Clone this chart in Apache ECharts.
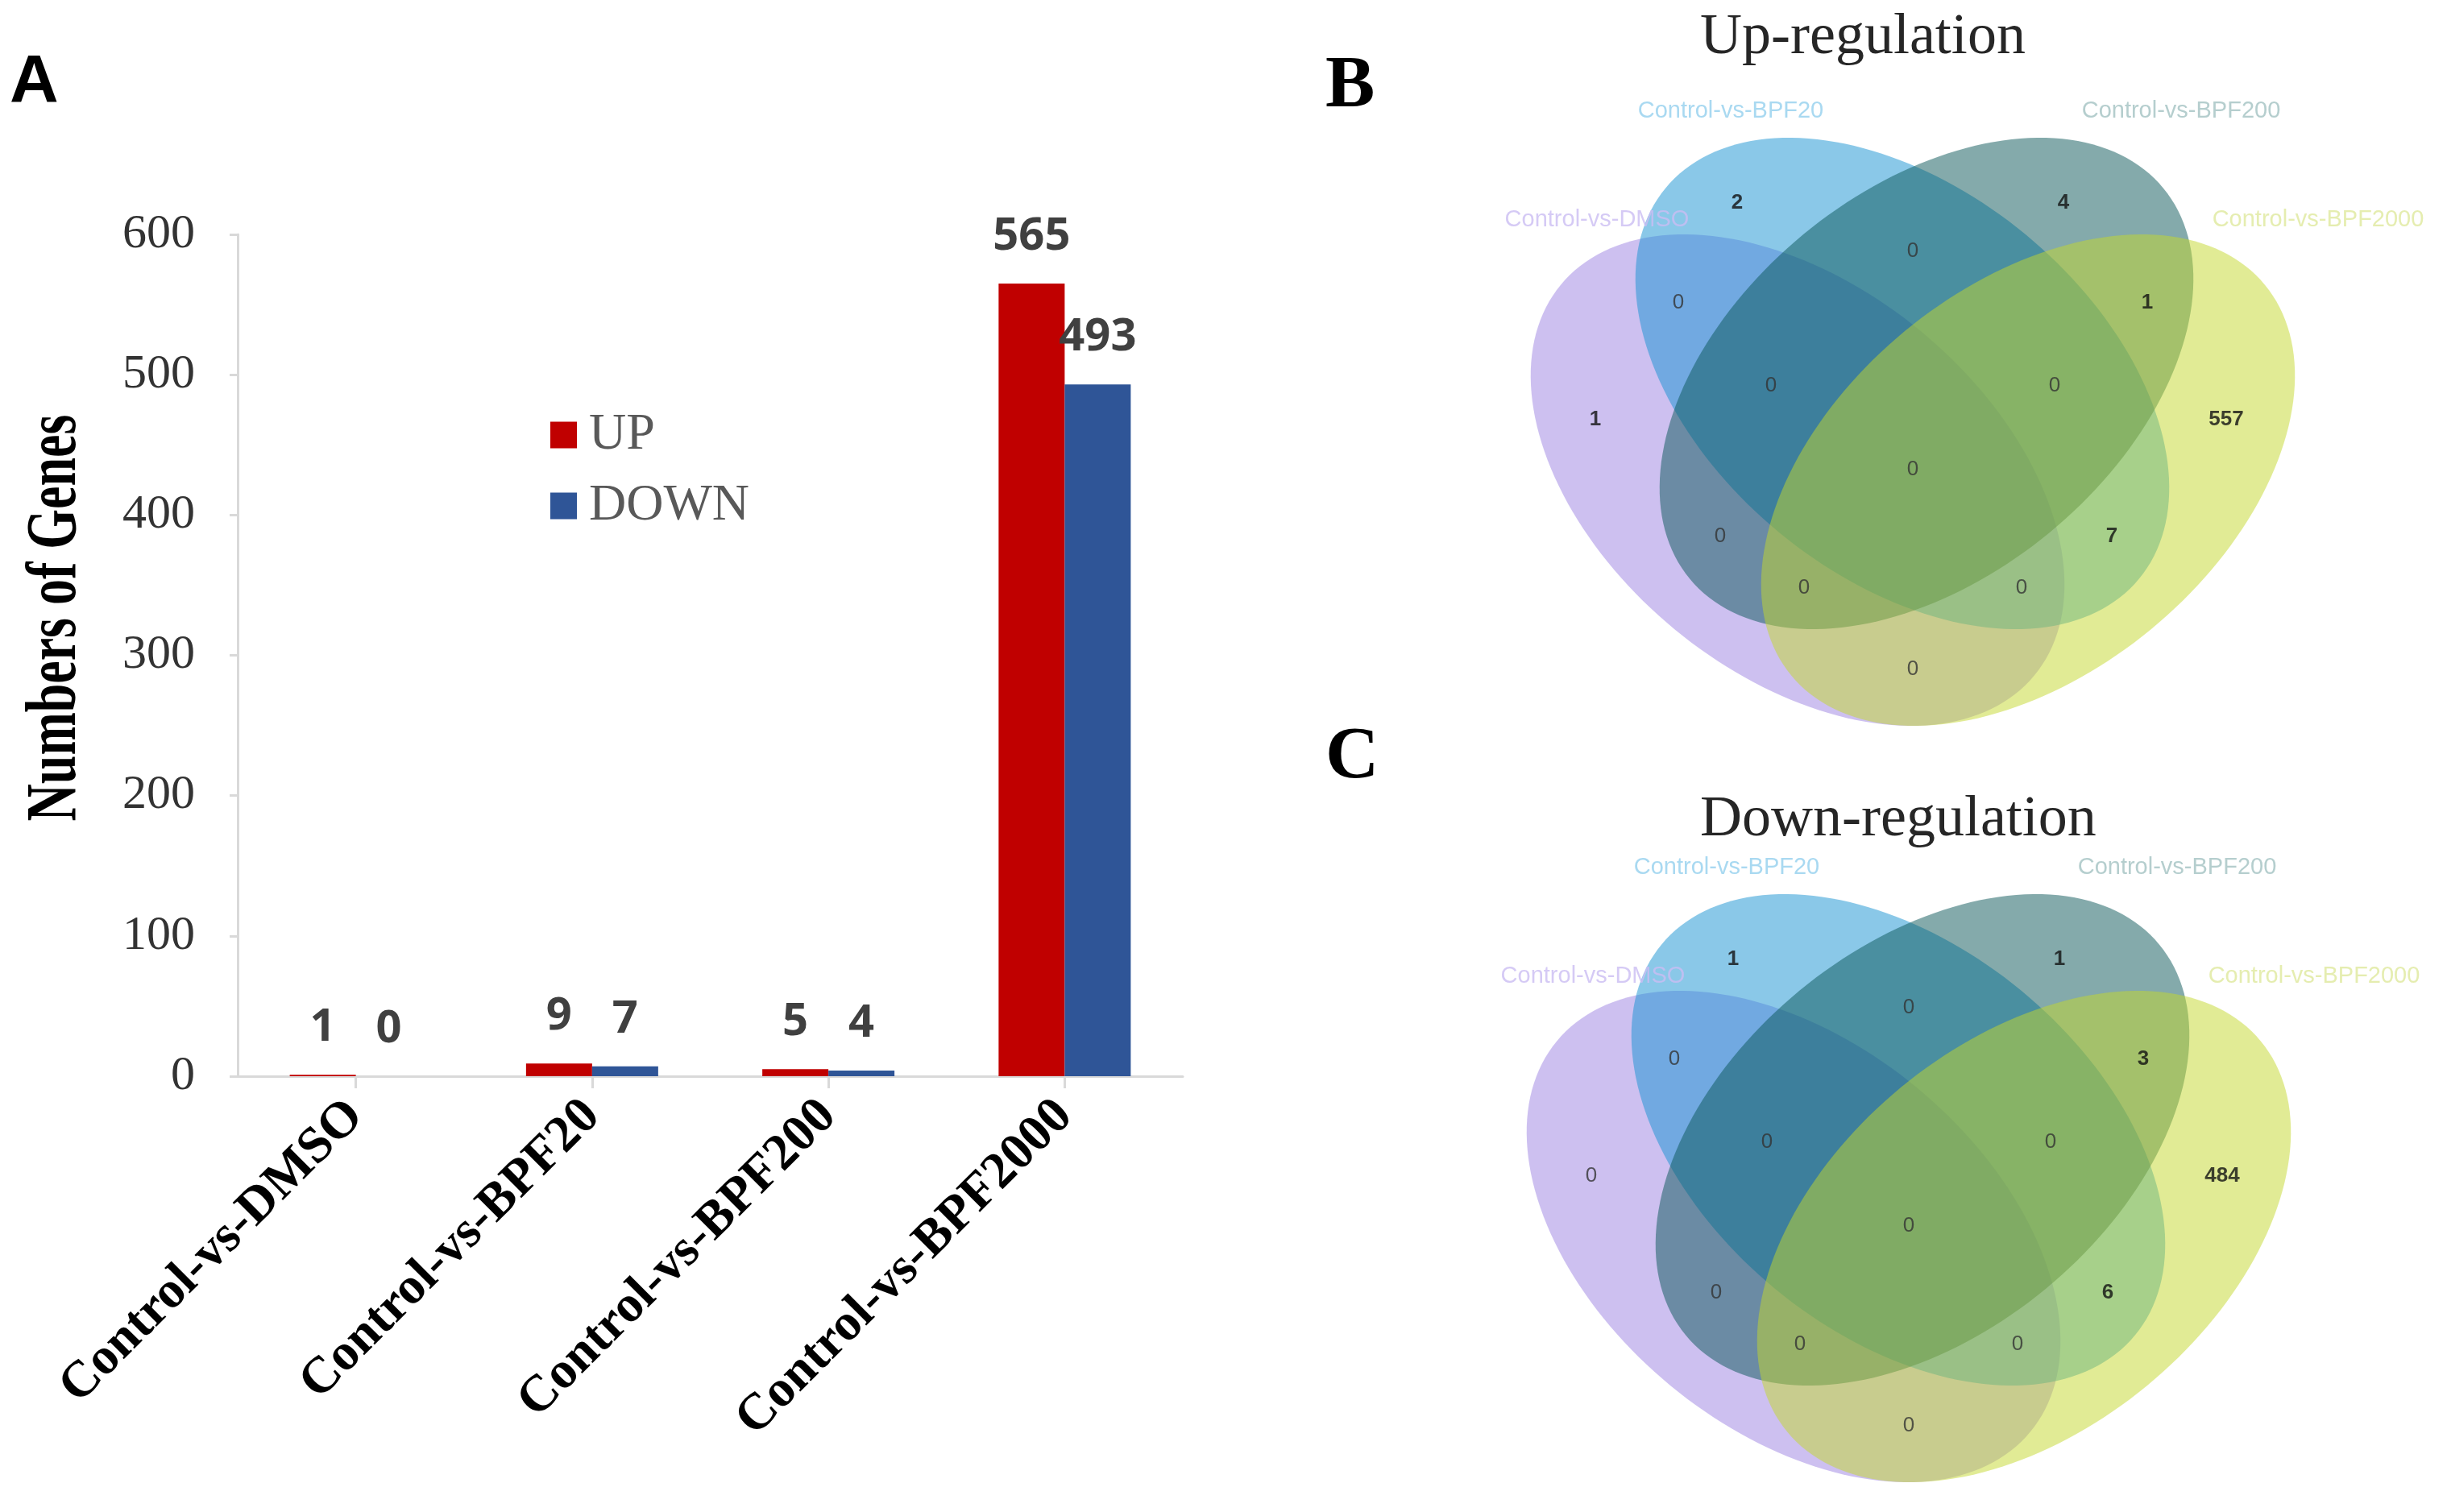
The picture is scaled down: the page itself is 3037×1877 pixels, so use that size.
<!DOCTYPE html>
<html><head><meta charset="utf-8">
<script src="https://cdn.jsdelivr.net/npm/echarts@6/dist/echarts.min.js"></script>
<style>html,body{margin:0;padding:0;background:#fff}#c{width:3037px;height:1877px}</style>
</head><body><div id="c"></div>
<script>
// ---------- data ----------
const categories = ['Control-vs-DMSO', 'Control-vs-BPF20', 'Control-vs-BPF200', 'Control-vs-BPF2000'];
const upValues = [1, 9, 5, 565];
const downValues = [0, 7, 4, 493];
const legendNames = ['UP', 'DOWN'];
const yAxisTitle = 'Numbers of Genes';

const vennSets = ['Control-vs-DMSO', 'Control-vs-BPF20', 'Control-vs-BPF200', 'Control-vs-BPF2000'];
// region order: BPF20, BPF200, BPF20&200, DMSO&20, 200&2000, DMSO&20&200, 20&200&2000,
// DMSO, BPF2000, all, DMSO&200, 20&2000, DMSO&200&2000, DMSO&20&2000, DMSO&2000
const vennUpCounts = [2, 4, 0, 0, 1, 0, 0, 1, 557, 0, 0, 7, 0, 0, 0];
const vennDownCounts = [1, 1, 0, 0, 3, 0, 0, 0, 484, 0, 0, 6, 0, 0, 0];
const vennTitles = ['Up-regulation', 'Down-regulation'];

// ---------- layout (venn units = px, origin at diagram centre) ----------
const VENN_ELLIPSES = [
  {cx: -143, cy: 13, a: 381, b: 240, angle: 39.5, fill: 'rgba(155,129,225,0.5)'},
  {cx: -13, cy: -107, a: 381, b: 240, angle: 39.5, fill: 'rgba(21,145,209,0.5)'},
  {cx: 17, cy: -107, a: 381, b: 240, angle: -39.5, fill: 'rgba(9,85,87,0.5)'},
  {cx: 143, cy: 13, a: 381, b: 240, angle: -39.5, fill: 'rgba(195,215,43,0.5)'}
];
const VENN_REGION_POS = [[-218,-331],[187,-331],[0,-271],[-291,-207],[291,-207],[-176,-104],[176,-104],
  [-394,-62],[389,-62],[0,0],[-239,83],[247,83],[-135,147],[135,147],[0,248]];
const VENN_NAME_POS = [[-392,-310],[-226,-445],[333,-445],[503,-310]];
const VENN_NAME_COLORS = ['#cbbdf2', '#93cfee', '#a2c2c2', '#dfe99c'];
const VENN_GRIDS = [{cx: 2374, cy: 583}, {cx: 2369, cy: 1522}];

const SERIF = 'Liberation Serif, Times New Roman, serif';
const SANS = 'Liberation Sans, Arial, sans-serif';

const chart = echarts.init(document.getElementById('c'), null, {renderer: 'canvas'});

const grids = [{left: 295, top: 291, width: 1173, height: 1045}];
const xAxes = [{
  type: 'category', data: categories, gridIndex: 0,
  axisLine: {lineStyle: {color: '#d9d9d9', width: 3}},
  axisTick: {show: true, alignWithLabel: true, length: 15, lineStyle: {color: '#d9d9d9', width: 3}},
  axisLabel: {rotate: 45, margin: 40, fontFamily: SERIF, fontWeight: 'bold', fontSize: 64, color: '#000'}
}];
const yAxes = [{
  type: 'value', gridIndex: 0, min: 0, max: 600, interval: 100,
  axisLine: {show: true, lineStyle: {color: '#d9d9d9', width: 3}},
  axisTick: {show: true, length: 10, lineStyle: {color: '#d9d9d9', width: 3}},
  splitLine: {show: false},
  axisLabel: {margin: 53, fontFamily: SERIF, fontSize: 60, color: '#333'}
}];
const series = [
  {name: legendNames[0], type: 'bar', xAxisIndex: 0, yAxisIndex: 0, data: upValues, barWidth: 82, barGap: '0%',
   itemStyle: {color: '#c00000'},
   label: {show: true, position: 'top', distance: 30, fontFamily: 'Open Sans, sans-serif', fontWeight: 'bold', fontSize: 56, lineHeight: 56, color: '#404040'}},
  {name: legendNames[1], type: 'bar', xAxisIndex: 0, yAxisIndex: 0, data: downValues, barWidth: 82,
   itemStyle: {color: '#2f5597'},
   label: {show: true, position: 'top', distance: 30, fontFamily: 'Open Sans, sans-serif', fontWeight: 'bold', fontSize: 56, lineHeight: 56, color: '#404040'}}
];

VENN_GRIDS.forEach((g, gi) => {
  const idx = gi + 1;
  grids.push({left: g.cx - 530, top: g.cy - 460, width: 1180, height: 790});
  xAxes.push({type: 'value', gridIndex: idx, min: -530, max: 650, show: false});
  yAxes.push({type: 'value', gridIndex: idx, min: -460, max: 330, inverse: true, show: false});
  const counts = gi === 0 ? vennUpCounts : vennDownCounts;
  series.push({
    type: 'custom', xAxisIndex: idx, yAxisIndex: idx, z: 2, silent: true,
    data: VENN_ELLIPSES.map(e => [e.cx, e.cy]),
    renderItem: function (params, api) {
      const e = VENN_ELLIPSES[params.dataIndex];
      const r = e.angle * Math.PI / 180, pts = [];
      for (let k = 0; k < 180; k++) {
        const t = 2 * Math.PI * k / 180;
        const ux = e.a * Math.cos(t), uy = e.b * Math.sin(t);
        pts.push(api.coord([e.cx + ux * Math.cos(r) - uy * Math.sin(r), e.cy + ux * Math.sin(r) + uy * Math.cos(r)]));
      }
      return {type: 'polygon', shape: {points: pts}, style: {fill: e.fill, stroke: null}};
    }
  });
  series.push({
    type: 'scatter', xAxisIndex: idx, yAxisIndex: idx, z: 5, silent: true, symbolSize: 1,
    itemStyle: {color: 'rgba(0,0,0,0)'},
    data: VENN_REGION_POS.map((p, i) => [p[0], p[1], counts[i]]),
    label: {show: true, position: 'inside',
      formatter: p => p.value[2] === 0 ? '{z|0}' : '{n|' + p.value[2] + '}',
      rich: {z: {fontFamily: SANS, fontSize: 26, color: '#333'},
             n: {fontFamily: SANS, fontSize: 26, fontWeight: 'bold', color: '#111'}}}
  });
  series.push({
    type: 'scatter', xAxisIndex: idx, yAxisIndex: idx, z: 6, silent: true, symbolSize: 1,
    itemStyle: {color: 'rgba(0,0,0,0)'},
    data: vennSets.map((n, i) => ({name: n, value: VENN_NAME_POS[i], label: {color: VENN_NAME_COLORS[i]}})),
    label: {show: true, position: 'inside', formatter: p => p.name, fontFamily: SANS, fontSize: 29}
  });
});

const option = {
  animation: false,
  backgroundColor: '#fff',
  title: [
    {text: 'A', left: 12, top: 62, padding: 0, textStyle: {fontFamily: SANS, fontWeight: 'bold', fontSize: 84, lineHeight: 84, color: '#000'}},
    {text: 'B', left: 1645, top: 62, padding: 0, textStyle: {fontFamily: SERIF, fontWeight: 'bold', fontSize: 92, lineHeight: 92, color: '#000'}},
    {text: 'C', left: 1645, top: 895, padding: 0, textStyle: {fontFamily: SERIF, fontWeight: 'bold', fontSize: 92, lineHeight: 92, color: '#000'}},
    {text: vennTitles[0], left: 2110, top: 11, padding: 0, textStyle: {fontFamily: SERIF, fontWeight: 'normal', fontSize: 72, lineHeight: 72, color: '#262626'}},
    {text: vennTitles[1], left: 2110, top: 982, padding: 0, textStyle: {fontFamily: SERIF, fontWeight: 'normal', fontSize: 72, lineHeight: 72, color: '#262626'}}
  ],
  legend: {
    data: legendNames, orient: 'vertical', left: 683, top: 508, itemWidth: 33, itemHeight: 33, itemGap: 24,
    icon: 'rect', padding: 0,
    textStyle: {fontFamily: SERIF, fontSize: 64, lineHeight: 64, color: '#595959', padding: [0, 0, 0, 10]}
  },
  grid: grids, xAxis: xAxes, yAxis: yAxes, series: series,
  graphic: [{
    type: 'text', x: 70, y: 767, rotation: Math.PI / 2, scaleY: 1.4,
    style: {text: yAxisTitle, fontFamily: SERIF, fontWeight: 'bold', fontSize: 64, fill: '#000', align: 'center', verticalAlign: 'middle'}
  }]
};
chart.setOption(option);
</script>
</body></html>
